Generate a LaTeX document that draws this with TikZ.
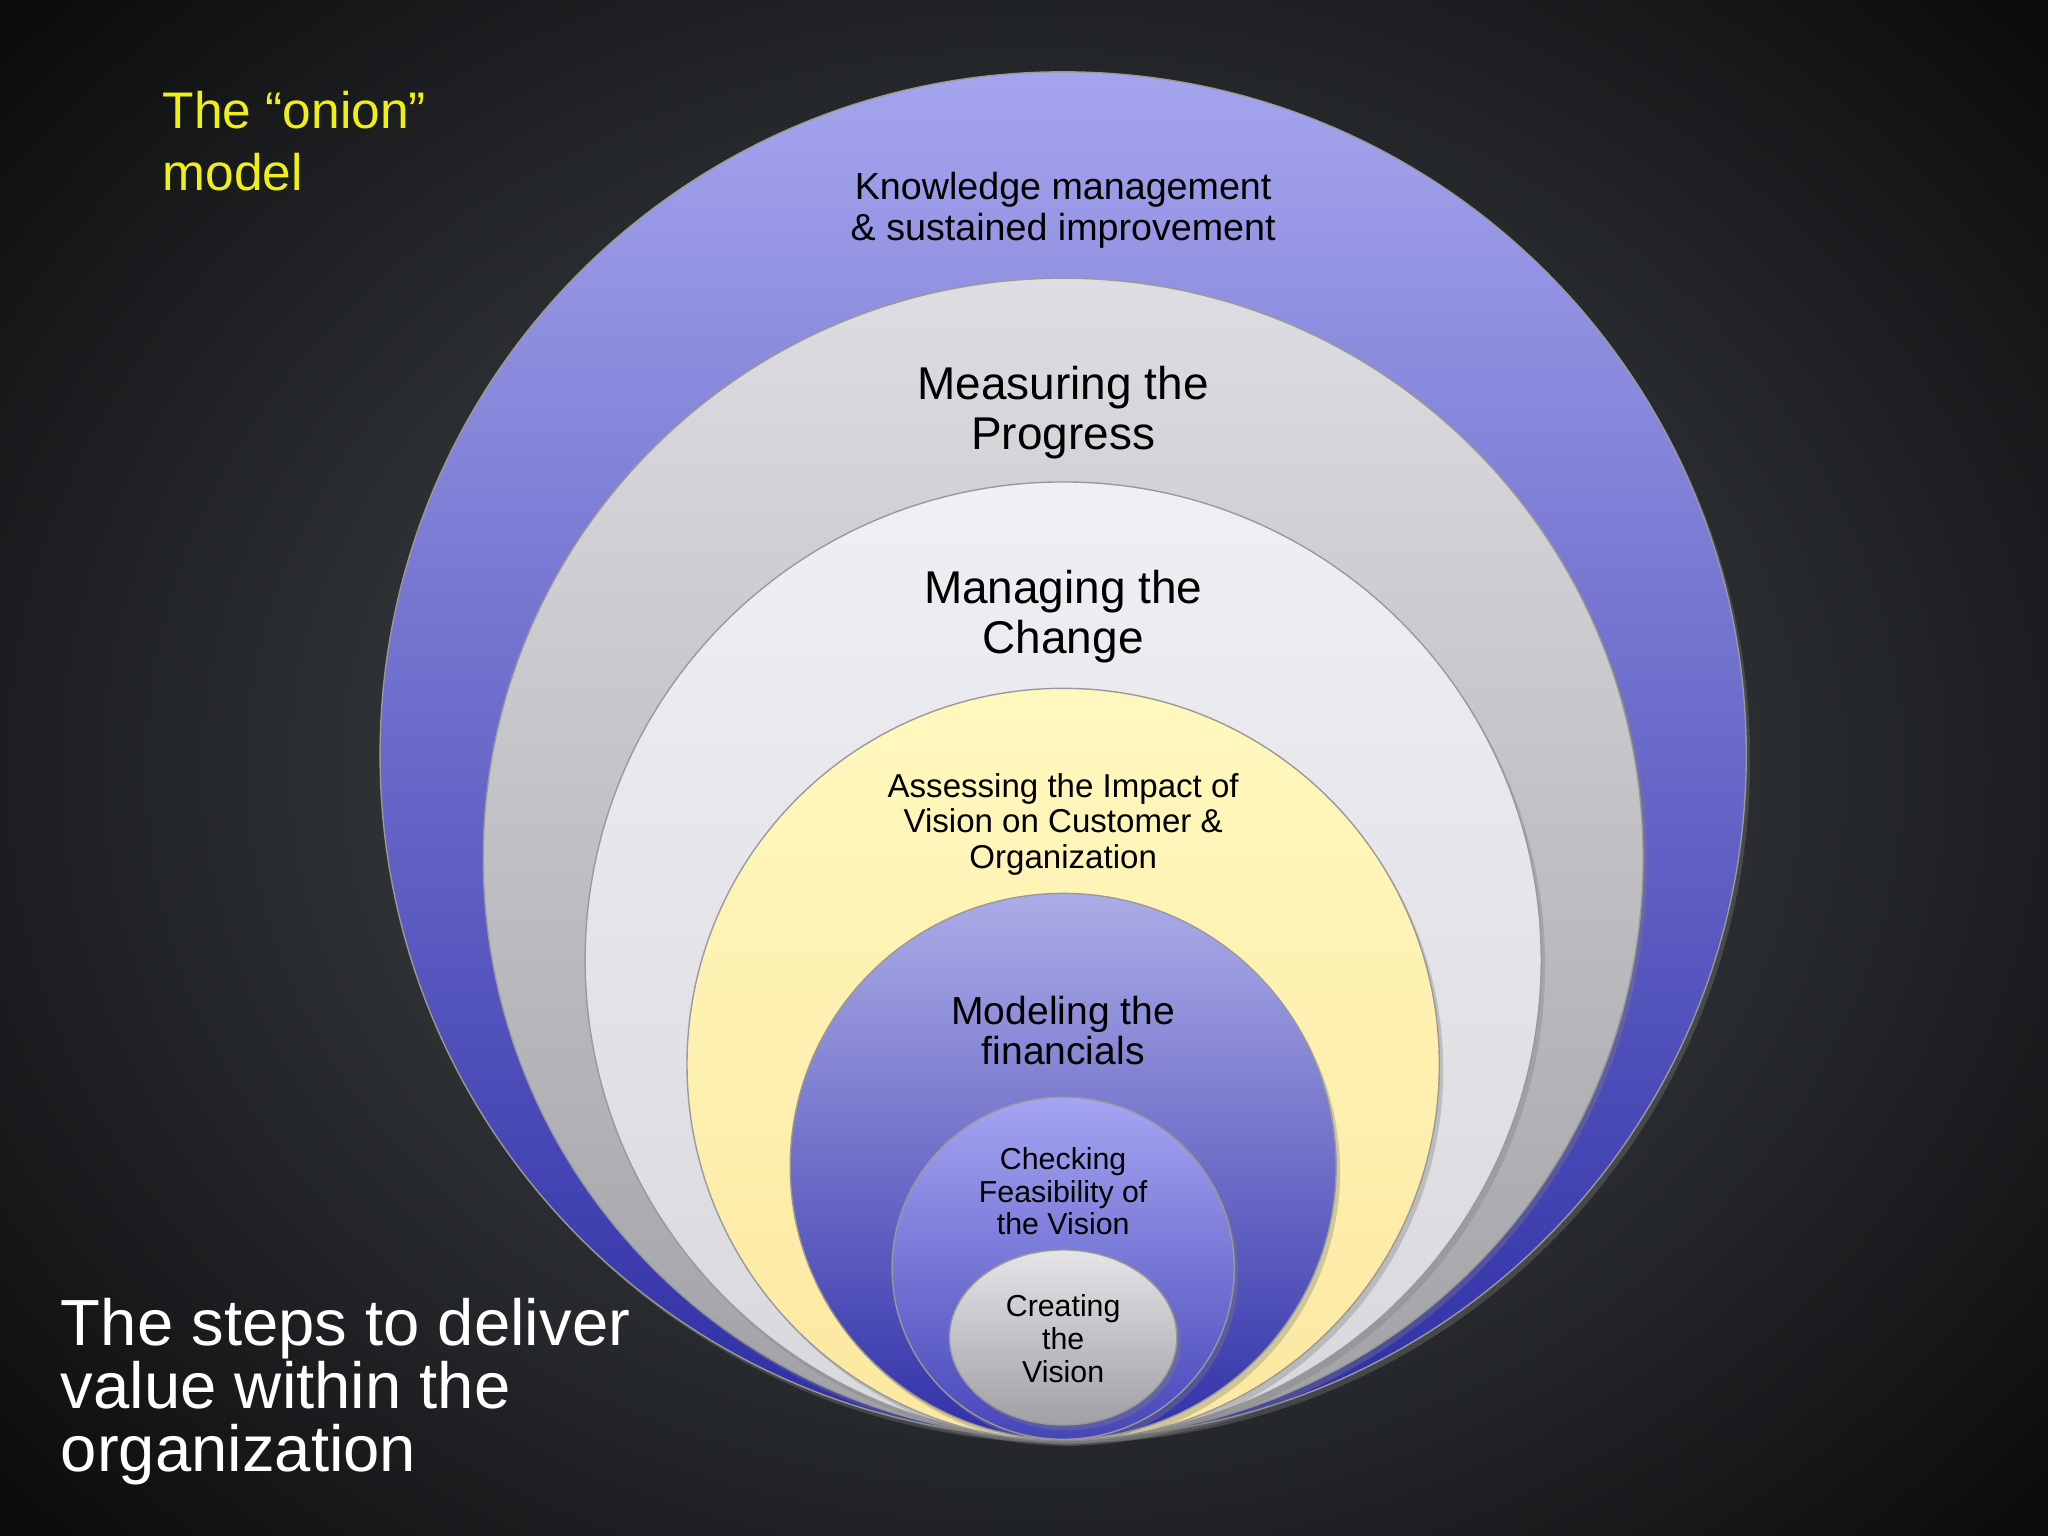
\documentclass[tikz,border=0pt]{standalone}
\usepackage{fontspec}
\setmainfont{Liberation Sans}
\usetikzlibrary{shadows}
\begin{document}
\begin{tikzpicture}[x=0.01cm,y=-0.01cm,
  ring/.style={draw=black!40,line width=0.3pt,drop shadow={shadow xshift=0.03cm,shadow yshift=-0.04cm,opacity=0.35}},
  lbl/.style={align=center,text=black}]
\useasboundingbox (0,0) rectangle (1568,1176);
\shade[inner color={rgb,255:red,78;green,82;blue,88},outer color={rgb,255:red,8;green,9;blue,10}] (-300,-300) rectangle (1868,1476);
\definecolor{lavT}{RGB}{165,165,238}
\definecolor{lavB}{RGB}{45,45,165}
\definecolor{gT}{RGB}{222,222,226}
\definecolor{gB}{RGB}{160,160,165}
\definecolor{wT}{RGB}{240,240,244}
\definecolor{wB}{RGB}{215,215,220}
\definecolor{yT}{RGB}{255,248,190}
\definecolor{yB}{RGB}{252,232,160}
\definecolor{bT}{RGB}{172,172,232}
\definecolor{bB}{RGB}{48,48,168}
\definecolor{cT}{RGB}{165,165,242}
\definecolor{cB}{RGB}{70,70,185}
\shade[ring,top color=lavT,bottom color=lavB] (814,578) circle (523);
\shade[ring,top color=gT,bottom color=gB] (814,657) circle (444);
\shade[ring,top color=wT,bottom color=wB] (814,735) circle (366);
\shade[ring,top color=yT,bottom color=yB] (814,815) circle (288);
\shade[ring,top color=bT,bottom color=bB] (814,893) circle (209);
\shade[ring,top color=cT,bottom color=cB] (814,971) circle (131);
\shade[ring,top color=gT!80!white,bottom color=gB] (814,1024) ellipse (87 and 67);
\node[lbl,font=\fontsize{8.2}{9}\selectfont] (k) at (814,161) {Knowledge management\\\& sustained improvement};
\node[lbl,font=\fontsize{10}{10.9}\selectfont] (m) at (814,316) {Measuring the\\Progress};
\node[lbl,font=\fontsize{10}{10.9}\selectfont] (c) at (814,472) {Managing the\\Change};
\node[lbl,font=\fontsize{7.2}{7.7}\selectfont] (a) at (814,631) {Assessing the Impact of\\Vision on Customer \&\\Organization};
\node[lbl,font=\fontsize{8.5}{8.9}\selectfont] (f) at (814,789) {Modeling the\\financials};
\node[lbl,font=\fontsize{6.6}{7.1}\selectfont] (ch) at (814,912) {Checking\\Feasibility of\\the Vision};
\node[lbl,font=\fontsize{6.6}{7.1}\selectfont] (cr) at (814,1025) {Creating\\the\\Vision};
\node[anchor=north west,align=left,text={rgb,255:red,240;green,240;blue,20},font=\fontsize{11.2}{13.6}\selectfont,inner sep=0] (t) at (124,69) {The “onion”\\model};
\node[anchor=north west,align=left,text=white,font=\fontsize{14.2}{13.7}\selectfont,inner sep=0] (s) at (46,993) {The steps to deliver\\value within the\\organization};
\end{tikzpicture}
\end{document}
